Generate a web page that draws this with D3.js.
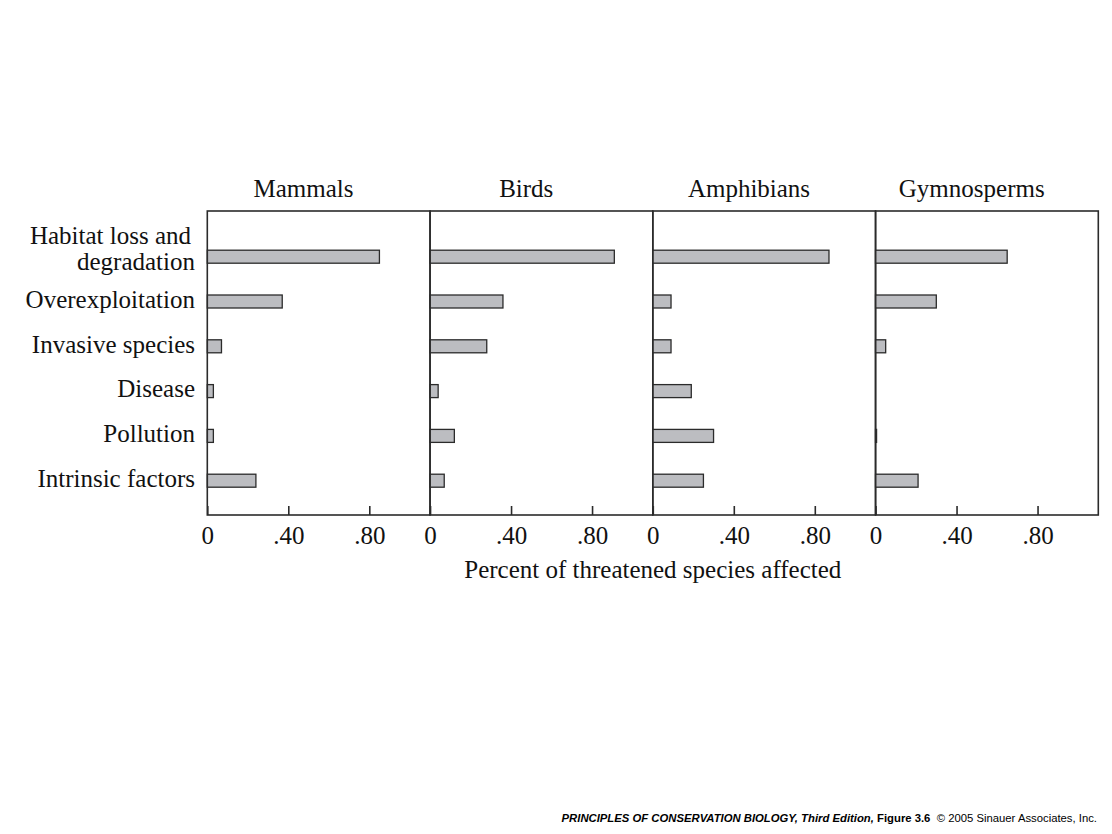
<!DOCTYPE html>
<html>
<head>
<meta charset="utf-8">
<script src="https://cdn.jsdelivr.net/npm/d3@7"></script>
<style>
	body { margin: 0; background: #fff; }
	svg { display: block; }
	text { font-family: "Liberation Serif", "Times New Roman", serif; fill: #111; }
</style>
</head>
<body>
<div id="chart"></div>
<script>
// threats, top to bottom
var categories = ["Habitat loss and degradation", "Overexploitation", "Invasive species", "Disease", "Pollution", "Intrinsic factors"];
var categoryLines = [["Habitat loss and", "degradation"], ["Overexploitation"], ["Invasive species"], ["Disease"], ["Pollution"], ["Intrinsic factors"]];

var groups = ["Mammals", "Birds", "Amphibians", "Gymnosperms"];

// fraction of threatened species affected, same order as categories
var mammals = [0.85, 0.37, 0.07, 0.03, 0.03, 0.24];
var birds = [0.91, 0.36, 0.28, 0.04, 0.12, 0.07];
var amphibians = [0.87, 0.09, 0.09, 0.19, 0.30, 0.25];
var gymnosperms = [0.65, 0.30, 0.05, 0, 0.005, 0.21];

var tickValues = [0, 0.4, 0.8];

var seriesValues = [mammals, birds, amphibians, gymnosperms];

var width = 1112,
	height = 834;

var plot = {
	left: 207.3,
	right: 1098.3,
	top: 211,
	bottom: 515
};

var svg = d3.select("#chart")
	.append("svg")
	.attr("width", width)
	.attr("height", height);

// one band per panel
var panel = d3.scaleBand()
	.domain(groups)
	.range([plot.left, plot.right]);

var x = d3.scaleLinear()
	.domain([0, 1.1])
	.range([0, panel.bandwidth()]);

var y = d3.scaleBand()
	.domain(categories)
	.range([234.3, 503.1])
	.paddingInner(0.71)
	.paddingOuter(0.355);

groups.forEach(function (g, i) {
	var gp = svg.append("g")
		.attr("transform", "translate(" + panel(g) + ",0)");

	// bars
	gp.selectAll(".bar")
		.data(categories.map(function (c, j) { return { cat: c, value: seriesValues[i][j] }; })
			.filter(function (d) { return d.value > 0; }))
		.enter()
		.append("rect")
		.attr("class", "bar")
		.attr("x", 0)
		.attr("y", function (d) { return y(d.cat); })
		.attr("width", function (d) { return x(d.value); })
		.attr("height", y.bandwidth())
		.style("fill", "#bcbdc1")
		.style("stroke", "#2b2b2b")
		.style("stroke-width", 1.3);

	// panel frame
	gp.append("rect")
		.attr("x", 0)
		.attr("y", plot.top)
		.attr("width", panel.bandwidth())
		.attr("height", plot.bottom - plot.top)
		.style("fill", "none")
		.style("stroke", "#2b2b2b")
		.style("stroke-width", 1.6);

	// x axis, ticks point inward
	var ax = gp.append("g")
		.attr("transform", "translate(0," + plot.bottom + ")")
		.call(d3.axisBottom(x)
			.tickValues(tickValues)
			.tickSize(-9)
			.tickPadding(11)
			.tickFormat(function (d) {
				return d === 0 ? "0" : d3.format(".2f")(d).replace(/^0/, "");
			}));
	ax.select(".domain").remove();
	ax.selectAll("line")
		.style("stroke", "#2b2b2b")
		.style("stroke-width", 1.6);
	ax.selectAll("text")
		.style("font-family", "Liberation Serif, serif")
		.style("font-size", "25px")
		.style("fill", "#111");

	// panel title
	gp.append("text")
		.attr("x", x(0.475))
		.attr("y", 197)
		.attr("text-anchor", "middle")
		.style("font-size", "25px")
		.text(g);
});

// category labels
var labels = svg.append("g")
	.selectAll("text")
	.data(categories)
	.enter()
	.append("text")
	.attr("text-anchor", "end")
	.style("font-size", "25px")
	.attr("transform", function (d) {
		return "translate(195," + (y(d) + y.bandwidth() / 2) + ")";
	});

labels.each(function (d, i) {
	var lines = categoryLines[i];
	var t = d3.select(this);
	lines.forEach(function (line, k) {
		t.append("tspan")
			.attr("x", k === 0 && lines.length > 1 ? -4 : 0)
			.attr("y", (k - (lines.length - 1) / 2) * 26 - (lines.length > 1 ? 6 : 0))
			.attr("dy", "0.25em")
			.text(line);
	});
});

// x axis title
svg.append("text")
	.attr("x", (plot.left + plot.right) / 2)
	.attr("y", 578)
	.attr("text-anchor", "middle")
	.style("font-size", "25px")
	.text("Percent of threatened species affected");

// credit line
var credit = svg.append("text")
	.attr("x", 1097)
	.attr("y", 822)
	.attr("text-anchor", "end")
	.style("font-family", "Liberation Sans, Arial, sans-serif")
	.style("font-size", "11.3px")
	.style("fill", "#000");
credit.append("tspan")
	.style("font-weight", "bold")
	.style("font-style", "italic")
	.text("PRINCIPLES OF CONSERVATION BIOLOGY, Third Edition,");
credit.append("tspan")
	.style("font-weight", "bold")
	.text(" Figure 3.6");
credit.append("tspan")
	.text("\u00a0\u00a0\u00a9 2005 Sinauer Associates, Inc.");
</script>
</body>
</html>
